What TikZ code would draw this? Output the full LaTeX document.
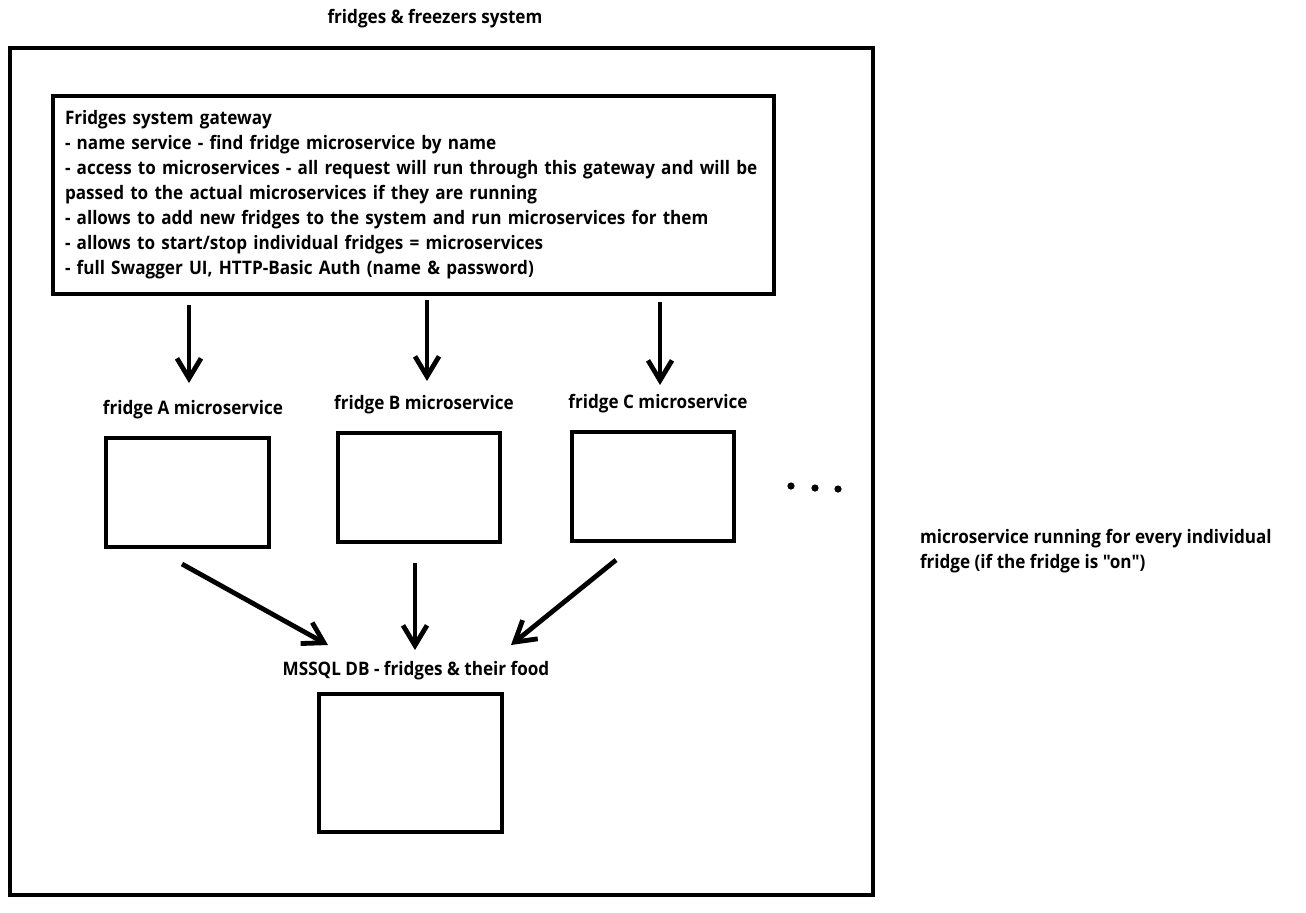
\documentclass[tikz,border=0pt]{standalone}
\usepackage{fontspec}
\setmainfont{Open Sans}[FakeStretch=0.92,Ligatures=TeXOff]
\usepackage{tikz}
\usetikzlibrary{positioning,arrows.meta}

\begin{document}
\begin{tikzpicture}
  [x=0.5pt,y=-0.5pt,line width=2pt,
   every node/.style={font=\bfseries\fontsize{9.3}{12.5}\selectfont,inner sep=0pt},
   box/.style={draw,line width=2pt},
   arr/.style={line width=2.4pt,-{Straight Barb[length=10pt,width=12pt,line width=2.4pt]}}]
  \useasboundingbox (0,0) rectangle (1306,912);

  \node (title) at (435,19) {fridges \& freezers system};
  \draw (10,48) rectangle (873,895);

  % gateway
  \node[box,minimum width=360.5pt,minimum height=99pt,text width=348.5pt,align=left]
    (gateway) at (413.5,195) {Fridges system gateway\\
    - name service - find fridge microservice by name\\
    - access to microservices - all request will run through this gateway and will\nobreak\ be\\
    passed to the actual microservices if they are running\\
    - allows to add new fridges to the system and run microservices for them\\
    - allows to start/stop individual fridges = microservices\\
    - full Swagger UI, HTTP-Basic Auth (name \& password)\rule[-3pt]{0pt}{0pt}};

  % fridges
  \node (labA) at (193,410) {fridge A microservice};
  \node (labB) at (424,405) {fridge B microservice};
  \node (labC) at (658,404) {fridge C microservice};
  \node[box,minimum width=81.5pt,minimum height=54.5pt] (boxA) at (187.5,492.5) {};
  \node[box,minimum width=81pt,minimum height=54.5pt] (boxB) at (419,487.5) {};
  \node[box,minimum width=81pt,minimum height=54.5pt] (boxC) at (653,486.5) {};
  \foreach \x/\y in {791/486,815/488,838/489}
    \fill (\x,\y) circle (3.6);

  % database
  \node (labDB) at (416,671) {MSSQL DB - fridges \& their food};
  \node[box,minimum width=91.5pt,minimum height=69pt] (db) at (410.5,763) {};

  \node[align=left,anchor=west] (note) at (918,551) {microservice running for every individual\\
    fridge (if the fridge is "on")};

  \coordinate (tA) at (189,305);  \coordinate (hA) at (189,383);
  \coordinate (tB) at (427,300);  \coordinate (hB) at (427,381);
  \coordinate (tC) at (660,302);  \coordinate (hC) at (660,385);
  \coordinate (uA) at (182,564);  \coordinate (dA) at (328,645);
  \coordinate (uB) at (415,563);  \coordinate (dB) at (415,650);
  \coordinate (uC) at (616,560);  \coordinate (dC) at (511,645);

  \draw[arr] (tA) -- (hA);
  \draw[arr] (tB) -- (hB);
  \draw[arr] (tC) -- (hC);
  \draw[arr] (uA) -- (dA);
  \draw[arr] (uB) -- (dB);
  \draw[arr] (uC) -- (dC);
\end{tikzpicture}
\end{document}
